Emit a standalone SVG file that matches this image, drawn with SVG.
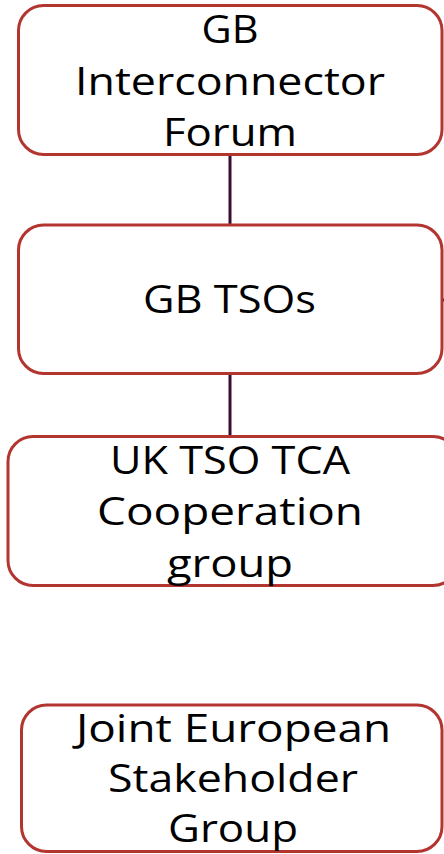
<svg xmlns="http://www.w3.org/2000/svg" width="444" height="854" viewBox="0 0 444 854">
<style>
.box{fill:#ffffff;stroke:#b3352f;stroke-width:3}
.lbl{font-family:"Open Sans","Liberation Sans",sans-serif;font-size:38px;fill:#000000;text-anchor:middle}
.conn{stroke:#3b0d33;stroke-width:3;fill:none}
</style>
<rect width="444" height="854" fill="#ffffff"/>
<g id="connectors">
<line class="conn" x1="230" y1="155" x2="230" y2="224"/>
<line class="conn" x1="230" y1="375" x2="230" y2="435"/>
<line class="conn" x1="448" y1="300" x2="460" y2="300"/>
<polygon points="441,300 449,295.5 449,304.5" fill="#3b0d33"/>
</g>
<g id="gb-interconnector-forum">
<rect class="box" x="18.5" y="5.5" width="423.5" height="149" rx="25"/>
<text class="lbl" x="230" y="43.3" textLength="57" lengthAdjust="spacingAndGlyphs">GB</text>
<text class="lbl" x="230" y="95" textLength="310" lengthAdjust="spacingAndGlyphs">Interconnector</text>
<text class="lbl" x="230" y="145.7" textLength="134" lengthAdjust="spacingAndGlyphs">Forum</text>
</g>
<g id="gb-tsos">
<rect class="box" x="18.5" y="225" width="423.5" height="148.5" rx="25"/>
<text class="lbl" x="229.5" y="313.3" textLength="173" lengthAdjust="spacingAndGlyphs">GB TSOs</text>
</g>
<g id="uk-tso-tca">
<rect class="box" x="8" y="436.5" width="450" height="149" rx="25"/>
<text class="lbl" x="230" y="474.3" textLength="240" lengthAdjust="spacingAndGlyphs">UK TSO TCA</text>
<text class="lbl" x="230" y="525" textLength="266" lengthAdjust="spacingAndGlyphs">Cooperation</text>
<text class="lbl" x="230" y="576.7" textLength="126" lengthAdjust="spacingAndGlyphs">group</text>
</g>
<g id="joint-european-stakeholder-group">
<rect class="box" x="21.5" y="705" width="420.5" height="146.5" rx="25"/>
<text class="lbl" x="233.5" y="742.3" textLength="315" lengthAdjust="spacingAndGlyphs">Joint European</text>
<text class="lbl" x="233" y="792.3" textLength="250" lengthAdjust="spacingAndGlyphs">Stakeholder</text>
<text class="lbl" x="233" y="842.3" textLength="130" lengthAdjust="spacingAndGlyphs">Group</text>
</g>
</svg>
